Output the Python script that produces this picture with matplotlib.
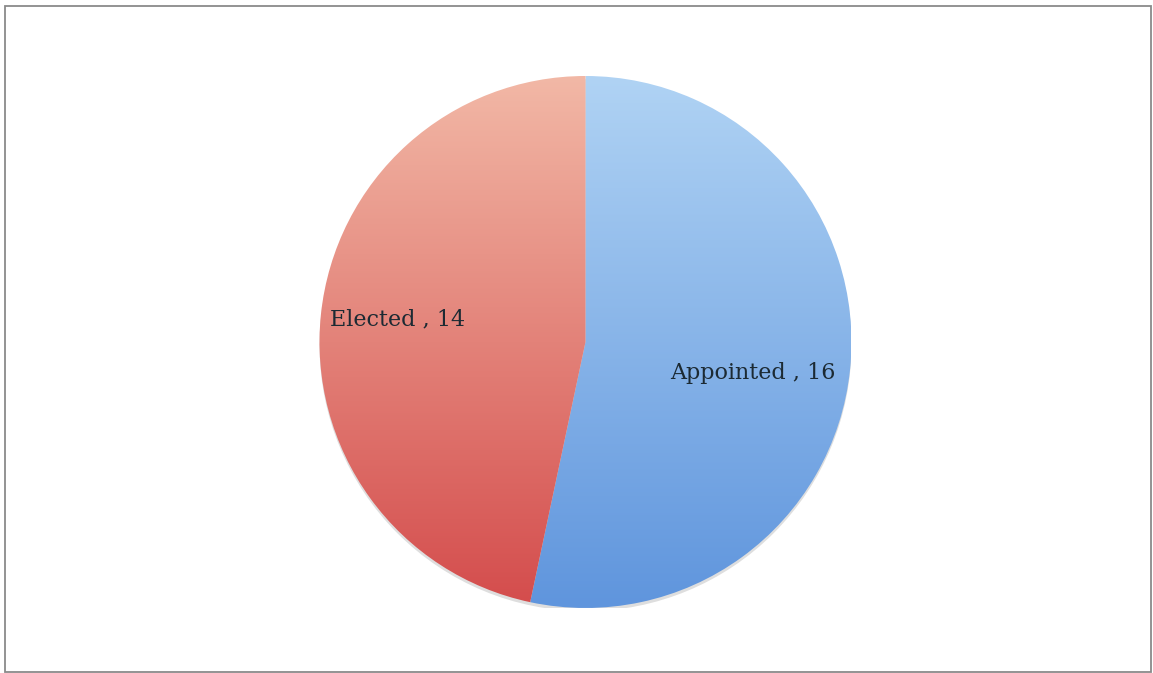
import numpy as np
import matplotlib
matplotlib.use('Agg')
import matplotlib.pyplot as plt
from matplotlib.colors import LinearSegmentedColormap
from matplotlib.patches import Rectangle, Circle

labels = ['Appointed', 'Elected']
values = [16, 14]
# top / bottom colours of the vertical gradient for each slice
grad_top = ['#b0d3f4', '#f2b8a6']
grad_bot = ['#5f95dd', '#d44c4c']
# label centres in axes data units (pie radius = 1)
label_xy = [(0.63, -0.115), (-0.707, 0.083)]

fig = plt.figure(figsize=(11.53, 6.73), dpi=100)
ax = fig.add_axes([0.2771, 0.0966, 0.4614, 0.7905])

# soft shadow under the pie
ax.add_patch(Circle((0.0, -0.012), 1.0, facecolor='#c8c8c8', edgecolor='none',
                    alpha=0.6, zorder=0.2))

wedges, texts = ax.pie(values, labels=[f'{l} , {v}' for l, v in zip(labels, values)],
                       startangle=90, counterclock=False, radius=1.0,
                       labeldistance=0.68,
                       wedgeprops={'linewidth': 0, 'facecolor': 'none'},
                       textprops={'family': 'DejaVu Serif', 'fontsize': 16, 'color': '#1c2a33'})

for w, t, top, bot, xy in zip(wedges, texts, grad_top, grad_bot, label_xy):
    cmap = LinearSegmentedColormap.from_list('g', [bot, top])
    grad = np.linspace(0, 1, 256).reshape(-1, 1)
    im = ax.imshow(grad, extent=[-1, 1, -1, 1], origin='lower', cmap=cmap,
                   aspect='auto', zorder=0.5)
    im.set_clip_path(w)
    t.set_position(xy)
    t.set_horizontalalignment('center')
    t.set_zorder(3)

ax.set_xlim(-1, 1)
ax.set_ylim(-1, 1)
ax.set_aspect('equal')
ax.axis('off')

fig.patches.append(Rectangle((5 / 1153, 1 / 673), 1146 / 1153, 666 / 673,
                             transform=fig.transFigure, fill=False,
                             edgecolor='#8a8a8a', linewidth=1.3))

fig.savefig('out.png', dpi=100)
